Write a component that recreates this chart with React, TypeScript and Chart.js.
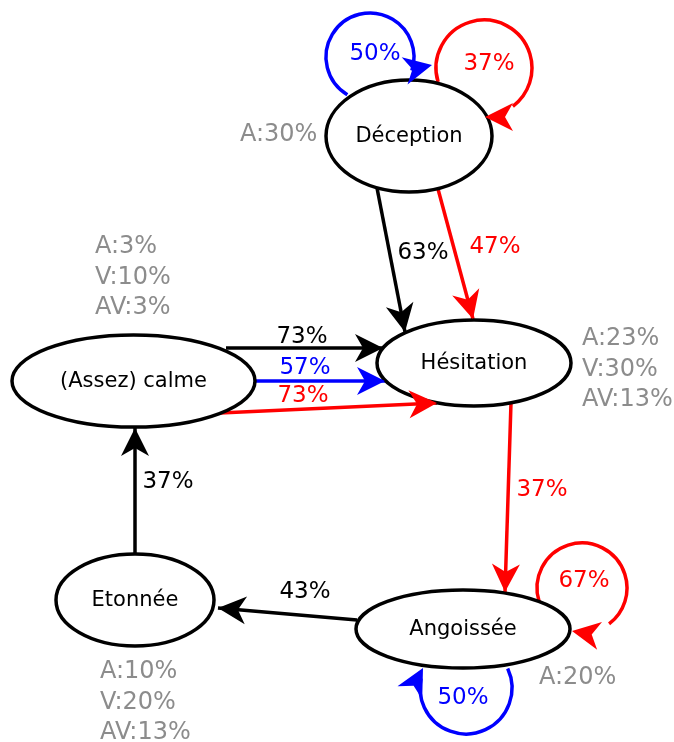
import React, { useEffect, useRef } from "react";
import { Chart, registerables } from "chart.js";

Chart.register(...registerables);

// ---------- data ----------
const states = ["Déception", "Hésitation", "(Assez) calme", "Etonnée", "Angoissée"];
const seriesColors = ["#000000", "#0000ff", "#ff0000"]; // noir, bleu, rouge

// transitions between distinct states
const edgeFrom = [0, 0, 2, 2, 2, 1, 4, 3];
const edgeTo = [1, 1, 1, 1, 1, 4, 3, 2];
const edgeSeries = [0, 2, 0, 1, 2, 2, 0, 0];
const edgeProb = [63, 47, 73, 57, 73, 37, 43, 37];

// self transitions
const loopState = [0, 0, 4, 4];
const loopSeries = [1, 2, 2, 1];
const loopProb = [50, 37, 67, 50];

// per-state statistics (null = not shown)
const statA = [30, 23, 3, 10, 20];
const statV = [null, 30, 10, 20, null];
const statAV = [null, 13, 3, 13, null];

// ---------- layout (value space 0..674 x 0..742) ----------
const nodeLayout = [
  { cx: 409, cy: 136, rx: 83, ry: 56 },
  { cx: 474, cy: 363, rx: 97, ry: 43 },
  { cx: 133.5, cy: 381, rx: 121.5, ry: 46 },
  { cx: 135, cy: 600, rx: 79, ry: 46 },
  { cx: 463, cy: 629, rx: 107, ry: 39 },
];
const edgeLayout = [
  { x1: 377, y1: 188, x2: 405, y2: 332, lx: 423, ly: 252 },
  { x1: 438, y1: 189, x2: 473, y2: 319, lx: 495, ly: 246 },
  { x1: 226, y1: 348, x2: 383, y2: 348, lx: 302, ly: 336 },
  { x1: 255, y1: 381, x2: 385, y2: 381, lx: 305, ly: 367 },
  { x1: 220, y1: 413, x2: 437, y2: 403, lx: 303, ly: 395 },
  { x1: 511, y1: 403, x2: 505, y2: 592, lx: 542, ly: 489 },
  { x1: 357, y1: 620, x2: 218, y2: 608, lx: 305, ly: 591 },
  { x1: 135, y1: 553, x2: 135, y2: 428, lx: 168, ly: 481 },
];
const loopLayout = [
  { cx: 370, cy: 57, r: 44, a0: 121, a1: 378, tx: 432, ty: 65, dir: -12, lx: 375, ly: 53 },
  { cx: 484, cy: 68, r: 48, a0: 163, a1: 413, tx: 485, ty: 117, dir: 180, lx: 489, ly: 63 },
  { cx: 582, cy: 588, r: 45, a0: 162, a1: 413, tx: 572, ty: 631, dir: 190, lx: 584, ly: 580 },
  { cx: 466, cy: 688, r: 46, a0: -25, a1: 192, tx: 423, ty: 668, dir: -62, lx: 463, ly: 697 },
];
const statLayout = [
  { x: 240, y: 134 },
  { x: 582, y: 338 },
  { x: 95, y: 246 },
  { x: 100, y: 671 },
  { x: 539, y: 677 },
];

const FONT = '"DejaVu Sans", Verdana, sans-serif';
const GRAY = "#8c8c8c";
const LW = 3.5;

function drawArrowHead(ctx: CanvasRenderingContext2D, tx: number, ty: number, ang: number, color: string) {
  const L = 28, W = 14, N = 8;
  const dx = Math.cos(ang), dy = Math.sin(ang);
  const px = -dy, py = dx;
  ctx.save();
  ctx.fillStyle = color;
  ctx.beginPath();
  ctx.moveTo(tx, ty);
  ctx.lineTo(tx - L * dx + W * px, ty - L * dy + W * py);
  ctx.lineTo(tx - (L - N) * dx, ty - (L - N) * dy);
  ctx.lineTo(tx - L * dx - W * px, ty - L * dy - W * py);
  ctx.closePath();
  ctx.fill();
  ctx.restore();
}

const diagramPlugin = {
  id: "diagram",
  beforeDatasetsDraw(chart: any) {
    const ctx: CanvasRenderingContext2D = chart.ctx;
    const xs = chart.scales.x, ys = chart.scales.y;
    const X = (v: number) => xs.getPixelForValue(v);
    const Y = (v: number) => ys.getPixelForValue(v);
    loopLayout.forEach((l, i) => {
      const color = seriesColors[loopSeries[i]];
      const r = X(l.cx + l.r) - X(l.cx);
      ctx.save();
      ctx.strokeStyle = color;
      ctx.lineWidth = LW;
      ctx.beginPath();
      ctx.arc(X(l.cx), Y(l.cy), r, (l.a0 * Math.PI) / 180, (l.a1 * Math.PI) / 180, false);
      ctx.stroke();
      ctx.restore();
    });
  },
  afterDatasetsDraw(chart: any) {
    const ctx: CanvasRenderingContext2D = chart.ctx;
    const xs = chart.scales.x, ys = chart.scales.y;
    const X = (v: number) => xs.getPixelForValue(v);
    const Y = (v: number) => ys.getPixelForValue(v);

    nodeLayout.forEach((n, i) => {
      ctx.save();
      ctx.beginPath();
      ctx.ellipse(X(n.cx), Y(n.cy), X(n.cx + n.rx) - X(n.cx), Math.abs(Y(n.cy + n.ry) - Y(n.cy)), 0, 0, Math.PI * 2);
      ctx.fillStyle = "#ffffff";
      ctx.fill();
      ctx.lineWidth = LW;
      ctx.strokeStyle = "#000000";
      ctx.stroke();
      ctx.fillStyle = "#000000";
      ctx.font = `21px ${FONT}`;
      ctx.textAlign = "center";
      ctx.textBaseline = "middle";
      ctx.fillText(states[i], X(n.cx), Y(n.cy) + 1);
      ctx.restore();
    });

    edgeLayout.forEach((e, i) => {
      const color = seriesColors[edgeSeries[i]];
      const ang = Math.atan2(Y(e.y2) - Y(e.y1), X(e.x2) - X(e.x1));
      drawArrowHead(ctx, X(e.x2), Y(e.y2), ang, color);
    });
    loopLayout.forEach((l, i) => {
      drawArrowHead(ctx, X(l.tx), Y(l.ty), (l.dir * Math.PI) / 180, seriesColors[loopSeries[i]]);
    });

    ctx.save();
    ctx.font = `23px ${FONT}`;
    ctx.textAlign = "center";
    ctx.textBaseline = "middle";
    edgeLayout.forEach((e, i) => {
      ctx.fillStyle = seriesColors[edgeSeries[i]];
      ctx.fillText(`${edgeProb[i]}%`, X(e.lx), Y(e.ly) + 1);
    });
    loopLayout.forEach((l, i) => {
      ctx.fillStyle = seriesColors[loopSeries[i]];
      ctx.fillText(`${loopProb[i]}%`, X(l.lx), Y(l.ly) + 1);
    });
    ctx.restore();

    ctx.save();
    ctx.font = `24px ${FONT}`;
    ctx.textAlign = "left";
    ctx.textBaseline = "middle";
    ctx.fillStyle = GRAY;
    statLayout.forEach((s, i) => {
      const lines: string[] = [];
      if (statA[i] !== null) lines.push(`A:${statA[i]}%`);
      if (statV[i] !== null) lines.push(`V:${statV[i]}%`);
      if (statAV[i] !== null) lines.push(`AV:${statAV[i]}%`);
      lines.forEach((t, k) => ctx.fillText(t, X(s.x), Y(s.y + k * 30.5) + 1));
    });
    ctx.restore();
  },
};

export default function App() {
  const ref = useRef<HTMLCanvasElement | null>(null);
  useEffect(() => {
    if (!ref.current) return;
    const datasets = edgeLayout.map((e, i) => ({
      label: `${states[edgeFrom[i]]} → ${states[edgeTo[i]]}`,
      data: [
        { x: e.x1, y: e.y1 },
        { x: e.x2, y: e.y2 },
      ],
      showLine: true,
      borderColor: seriesColors[edgeSeries[i]],
      backgroundColor: seriesColors[edgeSeries[i]],
      borderWidth: LW,
      pointRadius: 0,
      pointHoverRadius: 0,
    }));
    const chart = new Chart(ref.current, {
      type: "scatter",
      data: { datasets },
      options: {
        animation: false,
        responsive: false,
        devicePixelRatio: 1,
        layout: { padding: 0 },
        events: [],
        plugins: { legend: { display: false }, tooltip: { enabled: false }, title: { display: false } },
        scales: {
          x: { type: "linear", min: 0, max: 674, display: false },
          y: { type: "linear", min: 0, max: 742, reverse: true, display: false },
        },
      },
      plugins: [diagramPlugin],
    });
    return () => chart.destroy();
  }, []);
  return (
    <div style={{ position: "absolute", left: 0, top: 0, width: 674, height: 742, background: "#fff" }}>
      <canvas ref={ref} width={674} height={742} style={{ width: 674, height: 742 }} />
    </div>
  );
}
